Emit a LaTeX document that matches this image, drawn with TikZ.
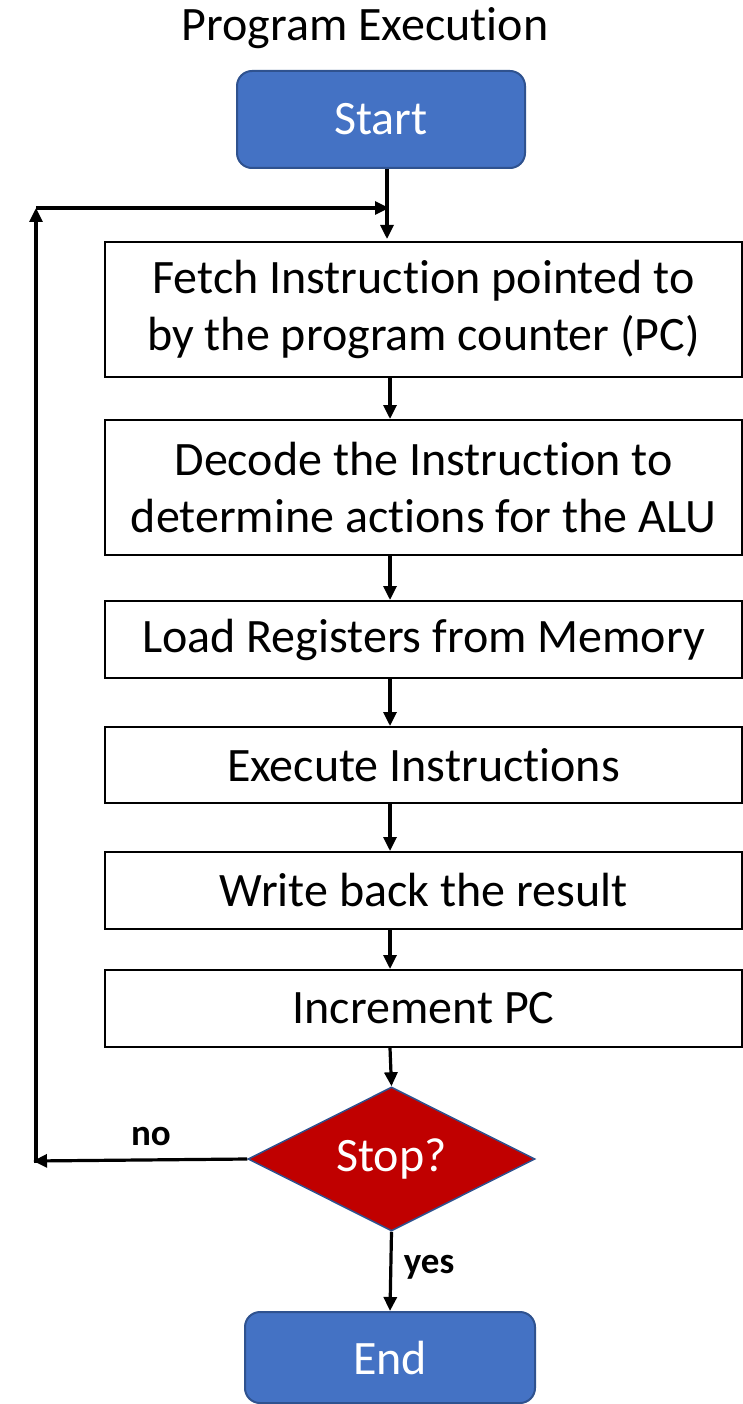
\documentclass[tikz,border=0pt]{standalone}
\usepackage{fontspec}
\setmainfont{Carlito}[Ligatures=NoCommon]
\usetikzlibrary{shapes.geometric,arrows.meta}

\definecolor{termblue}{HTML}{4472C4}
\definecolor{termedge}{HTML}{2F528F}
\definecolor{stopred}{HTML}{C00000}

\tikzset{
  terminal/.style={draw=termedge, line width=2pt, fill=termblue, rounded corners=15pt,
    text=white, font=\fontsize{48}{56}\selectfont, inner sep=0pt},
  stepbox/.style={draw=black, line width=2pt, fill=white, minimum width=637pt,
    align=center, inner sep=0pt, font=\fontsize{48}{57}\selectfont},
  decision/.style={diamond, draw=termedge, line width=1.5pt, fill=stopred, text=white,
    aspect=2, minimum width=287pt, minimum height=144pt, inner sep=0pt,
    font=\fontsize{48}{56}\selectfont},
  flow/.style={line width=3.2pt, -{Triangle[length=14pt,width=13pt]}},
  answer/.style={font=\bfseries\fontsize{37}{44}\selectfont, inner sep=0pt}
}

\begin{document}
\begin{tikzpicture}[x=1pt, y=-1pt]
  \useasboundingbox (0,0) rectangle (743,1404);
  \fill[white] (0,0) rectangle (743,1404);

  % heading
  \node[anchor=base, font=\fontsize{48}{56}\selectfont, inner sep=0pt] (title) at (365,41) {Program Execution};

  % start / end terminals
  \node[terminal, minimum width=288pt, minimum height=97pt] (start) at (381,119.5) {Start};
  \node[terminal, minimum width=290pt, minimum height=91pt] (end) at (390,1357.5) {End};

  % processing steps
  \node[stepbox, minimum height=135pt] (fetch) at (423.5,309.5) {\raisebox{-3pt}{Fetch Instruction pointed to}\\\raisebox{-3pt}{by the program counter (PC)}};
  \node[stepbox, minimum height=135pt] (decode) at (423.5,487.5) {Decode the Instruction to\\determine actions for the ALU};
  \node[stepbox, minimum height=77pt] (load) at (423.5,639.5) {\raisebox{-3pt}{Load Registers from Memory}};
  \node[stepbox, minimum height=76pt] (exec) at (423.5,765) {Execute Instructions};
  \node[stepbox, minimum height=77pt] (write) at (423.5,890.5) {Write back the result};
  \node[stepbox, minimum height=77pt] (incr) at (423.5,1008.5) {Increment PC};

  % decision
  \node[decision] (stop) at (391.5,1159) {Stop?};

  % routing points
  \coordinate (spine) at (390,0);
  \coordinate (entry) at (387,0);
  \coordinate (join) at (389,208);
  \coordinate (corner) at (36,208);
  \coordinate (lowleft) at (33,1161);
  \coordinate (lowcorner) at (36,1163);

  % main flow
  \draw[flow] (start.south -| entry) -- ([yshift=2pt]fetch.north -| entry);
  \draw[flow] (fetch.south -| spine) -- (decode.north -| spine);
  \draw[flow] (decode.south -| spine) -- (load.north -| spine);
  \draw[flow] (load.south -| spine) -- (exec.north -| spine);
  \draw[flow] (exec.south -| spine) -- (write.north -| spine);
  \draw[flow] (write.south -| spine) -- (incr.north -| spine);
  \draw[flow] (incr.south -| spine) -- (stop.north);
  \draw[flow] (stop.south) -- (end.north -| spine);

  % loop back when not stopping
  \draw[flow] (stop.west) -- (lowleft);
  \draw[flow] (lowcorner) -- (corner);
  \draw[flow] (corner) -- (join);

  % branch labels
  \node[answer] (nolabel) at (151,1137) {no};
  \node[answer] (yeslabel) at (429,1267) {yes};
\end{tikzpicture}
\end{document}
